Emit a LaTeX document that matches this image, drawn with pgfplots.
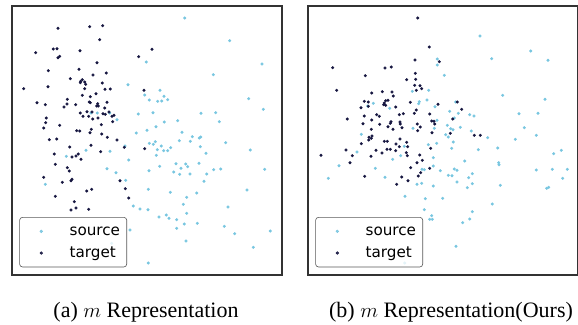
\documentclass[border=0pt]{standalone}
\usepackage{pgfplots}
\pgfplotsset{compat=1.18}
\usepackage{fontspec}
\setmainfont{Liberation Serif}
\newfontfamily\dejavu{DejaVu Sans}
\definecolor{src}{RGB}{120,198,224}
\definecolor{tgt}{RGB}{22,22,64}
\pgfplotsset{
 legend image code/.code={\path[draw=none, fill=none] (0pt,-3pt) rectangle (43.3pt,11pt); \draw[mark repeat=2, mark phase=2, #1] plot coordinates {(0pt,4pt) (15pt,4pt) (30pt,4pt)};},
 panel/.style={scale only axis, width=270pt, height=269pt, ymin=6, ymax=275, y dir=reverse,
  xtick=\empty, ytick=\empty, axis line style={black!80, line width=1.4pt}, anchor=north west,
  legend style={at={(0.027,0.0286)}, anchor=south west, draw=black!65, line width=0.6pt, rounded corners=3pt,
   fill=white, fill opacity=0.8, draw opacity=1, text opacity=1, inner xsep=6.7pt, inner ysep=7pt,
   font=\dejavu\fontsize{15.2}{18}\selectfont, row sep=7.7pt, column sep=0pt,
   nodes={inner sep=0pt, text height=11pt, text depth=3pt, anchor=base west}}},
 srcp/.style={only marks, mark=*, mark size=1.3pt, mark options={draw=src, fill=src}},
 tgtp/.style={only marks, mark=*, mark size=1.3pt, mark options={draw=tgt, fill=tgt}},
}
\begin{document}
\begin{tikzpicture}
\path[use as bounding box] (0,0) rectangle (578pt,-324pt);
\begin{axis}[panel, at={(12pt,-6pt)}, xmin=12, xmax=282]
\addplot[srcp] coordinates {
(128,84.7) (144.7,95) (91,113) (97.3,113) (109.7,113) (117,119.7) (138.3,114) (136.3,133)
(86,150.3) (66.3,156.3) (110,151.3) (125,146) (128.7,160) (107,168.7) (116,172.7) (125.7,180.3) (45.3,184.3) (133.3,206) (140,209) (130,230) (111.7,243.3)
(184.7,18) (229.7,40.7) (146.3,62) (262,64) (213.3,74.7) (160,90.3) (164,96.3) (149.3,100) (157.7,101.3) (161.7,101) (167.7,99.7) (248.7,98.7) (263.3,109.3) (153,112.7) (201,113.3) (215.7,112.7) (177.7,120.7) (164.3,122) (219.3,121.7) (156,126.7) (147,130.3) (182,132.3) (192.3,136.7) (199.3,138) (200.7,137)
(149.3,143.3) (153.3,144.3) (155.3,141.7) (161.3,146) (170.7,147.7) (179.3,140.7) (190.3,141.3) (200.3,146.7) (225.7,142.7) (157.3,149.7) (163.7,150.7) (167.7,150.7) (250.3,150) (206,153.3) (156.3,155.3) (176,163.7) (185.7,164) (187.7,166.7) (181,168.3) (199,163.3) (159.7,166.3) (149,170.7) (173.7,172) (179.7,174.3) (190,174) (206.7,174) (213.7,169.7) (220.7,169) (264.7,169.3) (204,181.3) (148.3,189.3) (170.3,192.3) (196.7,193) (247,190) (186.7,197.3) (183.3,204.3) (228,207) (148,209.7) (186.7,213.3) (166.3,215) (159,217) (169,218.3) (176.7,219.7) (184.3,224) (197.3,223.3) (224.3,226.3) (176.7,228.3) (234.7,233.7) (270.3,231) (186,241) (253.3,247.3) (148.3,263)
};
\addplot[tgtp] coordinates {
(58,28.3) (89.7,26.7) (102.7,25.7) (99.7,39.7) (35.7,52.7) (53.3,49) (57,48.7) (80,50.7) (59.7,56.3) (58,57.7) (97,62.7) (138.7,56.7) (48.3,70.7) (79,69.3) (106.3,73) (93,75) (70.3,78.7) (82.3,79.7) (80.7,81.3) (84.7,82) (80.3,82.7) (85.7,84.3) (102.3,83) (23.7,88.7) (48,86.7) (84.7,88.7) (105,89.3) (110.3,89) (144,90.3) (96,93.7) (82.3,95.3) (90.3,96.7) (67.3,99.3) (37,102.7) (45.3,104.7) (67,104) (75.7,104.7) (64,107) (89.3,102) (90.3,102.7) (97.7,103.7) (96.7,106) (98.3,106) (107,102.3) (104.7,108) (80.3,113) (87,111.7) (92,112) (103,113.7) (105.3,114.3) (109,112) (83,116.3) (88.7,116.3) (98,118) (92.7,119) (112,116.3) (114,115.3) (46.3,118) (45.7,122.7) (112.7,121.7) (59.7,125.3) (101.3,124.7) (43.7,128) (91.3,129.3) (90,132.7) (76.7,130.7) (79.7,131) (101.7,134) (107.3,137.3) (49.3,139.7) (56.7,139) (117,140) (152,49.3)
(69.7,147) (91,145.3) (124.3,147.3) (144.7,148.7) (54.3,154) (72,157) (76,156) (78.3,154) (81,159.3) (100.7,151.7) (55.3,164.3) (67.3,167.7) (69.3,171) (43.7,177.3) (72,179.3) (71,180.7) (62.3,182.3) (120,180.7) (125.3,188.7) (91.7,189.3) (86.7,191) (55.3,196.3) (128.7,198) (74.3,201.7) (76,208) (71,210) (88.7,209.3)
};
\legend{source,target}
\end{axis}
\begin{axis}[panel, at={(308pt,-6pt)}, xmin=308, xmax=578]
\addplot[srcp] coordinates {
(437.3,59) (437.3,65) (412.3,91.3) (428.7,90.3) (373.3,103.3) (367.7,106) (389.7,108.3) (419.3,101.7) (418.7,103.7) (427,100) (435,106.7) (437,120.3) (413,128.3) (434.3,128.3) (361.3,134.3)
(480,36) (530.7,51) (491.7,58.7) (548,60.3) (444.3,75.3) (502.7,95.3) (545,99.3) (455.7,102) (449.7,111.3) (458.3,113.3) (469.7,114.7) (474,116) (519,113.7) (538,113.3) (454.3,118) (447.3,125.3) (460.3,127.3) (450.7,128.7) (453,129.7) (524.3,127.7) (471.3,131) (445.7,134.7) (448.3,137) (487.7,137.7) (515.3,139.3) (536.3,135.3)
(428.3,144.7) (436.7,143.3) (357,152) (404.3,146.3) (392.7,159.3) (400.7,155.7) (433.3,157.7) (339,165.7) (375.3,168.3) (422,169.3) (424.3,169.7) (433.3,166) (440.3,170.7) (328.3,178.3) (385,177.3) (417,184.3) (421.7,183.3) (433.3,186) (405,196.3) (425.3,198.7) (442.7,198.3) (424.3,209.7) (431.7,215.7) (429.7,219.3) (432.3,219.3) (404.7,263)
(453.3,142) (451.7,148.3) (478.3,149.7) (497.7,148) (553.7,153.7) (561.3,150.3) (464.7,161) (498.7,162.7) (499,164.7) (454.3,169) (457,170.3) (448.3,175.3) (452,175.7) (472.3,173.7) (468.7,177.7) (536.3,170) (552.3,169.3) (567.3,169.3) (562.7,178.3) (457,182) (472.3,183.7) (467.3,187.7) (500.3,185.3) (546.7,188.3) (548.7,187.3) (492.3,204) (472.3,211.7) (469.7,219) (462.7,222.7) (456,246.3)
};
\addplot[tgtp] coordinates {
(417.7,18) (429.3,47) (415,60) (439.3,61.7) (332.7,67.7) (385,68) (391.3,67) (365.3,75.7) (415.3,73.3) (406.7,79.7) (415.7,79.3) (414.7,85.3) (420,85.7) (421.7,88.7) (416.3,90.3) (336.7,90.3) (371.7,93) (382.3,91.7) (392,92) (393.3,96) (364.3,101.3) (368.3,102) (385.7,100.7) (388,100.3) (384.3,103) (383.7,104.7) (385.7,105.3) (368.3,106.3) (361,107.7) (395.7,107) (410.3,102.3) (438,104.3) (416.3,110) (364.3,116) (376.7,114.7) (379.3,116.3) (399.3,114.7) (403.3,113.7) (414.3,113.3) (429.7,114) (347.3,119) (371.7,120) (391,121.7) (390.3,123.3) (400,122) (400.3,124) (431.7,121) (434,121.3) (434.7,124) (363,123.7) (379.7,124.3) (417.3,124) (388,126.7) (393,129.3) (402,127.7) (420.3,127) (417.7,130.7) (371.3,129.3) (432,132.7) (369,137.3) (372,136) (371.3,138.3) (400,139)
(457.3,102) (461.7,109.3) (452.7,119) (450.3,133.3) (474.3,135.3) (480.3,135.3)
(361.3,143.7) (368.7,140) (384.3,141.3) (387.3,141.3) (396,144) (406.7,142.3) (399.3,146.7) (407.7,146.7) (430.7,148.3) (346,150) (376,150.3) (387,149.3) (390.3,149.3) (382,153) (395.7,150.7) (406.3,152.7) (407.3,155.7) (419.7,155) (321,155.3) (352.3,155.7) (371,156.3) (422.3,160.3) (417,162.7) (350,162.7) (410.7,167.7) (429.7,168.3) (420.7,172.7) (418.3,176) (364.7,176.3) (401.7,177) (408,180.7) (396.7,184.3)
};
\legend{source,target}
\end{axis}
\node[anchor=base, font=\fontsize{22}{26}\selectfont] at (146pt,-317pt) {(a) $m$ Representation};
\node[anchor=base, font=\fontsize{22}{26}\selectfont] at (451pt,-317pt) {(b) $m$ Representation(Ours)};
\end{tikzpicture}
\end{document}
